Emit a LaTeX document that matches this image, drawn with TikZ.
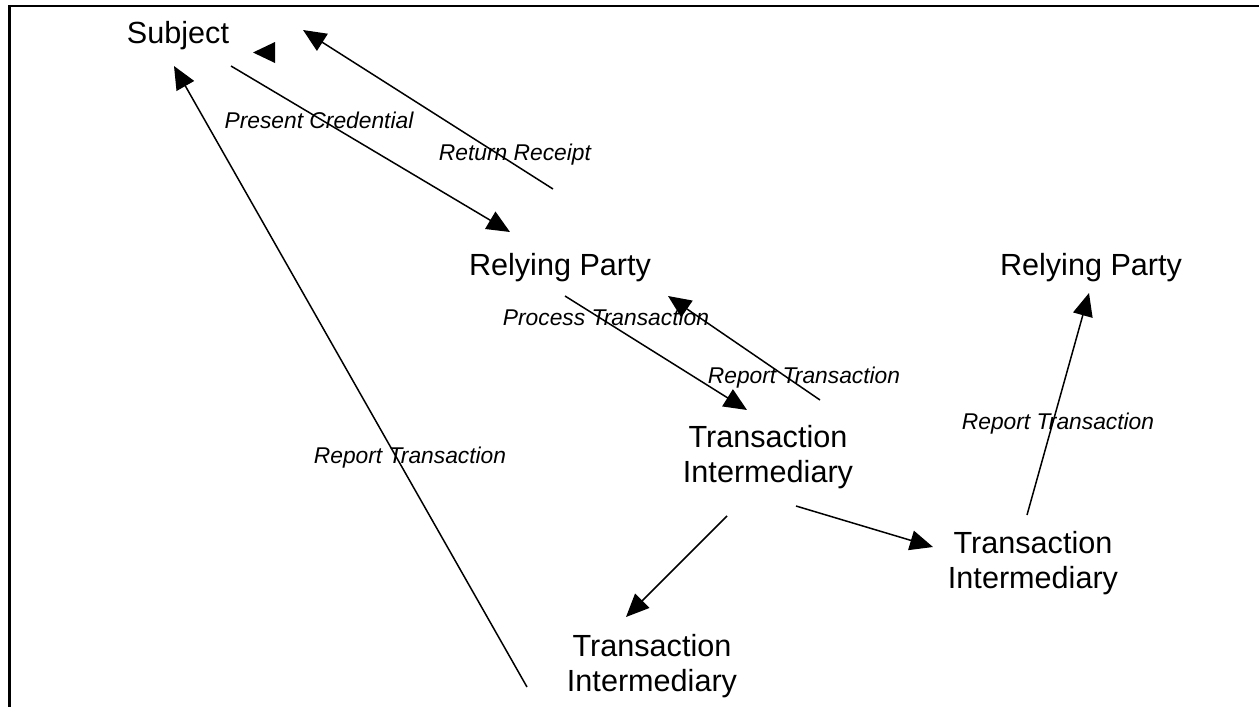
\documentclass[tikz,border=0pt]{standalone}
\usepackage{fontspec}
\setmainfont{Liberation Sans}
\usetikzlibrary{arrows.meta}
\tikzset{
  party/.style={inner sep=0pt, anchor=base, align=center, font=\fontsize{30.6}{35}\selectfont},
  flowlabel/.style={inner sep=0pt, anchor=base, font=\fontsize{22.8}{27}\selectfont\itshape},
  flow/.style={line width=1.5pt, -{Triangle[length=23pt,width=20pt]}},
  frameline/.style={line width=2.5pt}
}
\begin{document}
\begin{tikzpicture}[x=1pt,y=-1pt]
\useasboundingbox (0,0) rectangle (1259,707);
% frame
\coordinate (fr1) at (9.5,707);
\coordinate (fr2) at (9.5,6);
\coordinate (fr3) at (1259,6);
\draw[frameline] (fr1) -- (fr2) -- (fr3);

% nodes (anchor = baseline of the last line)
\node[party] (subj) at (178,43.5) {Subject};
\node[party] (rp1) at (560,275) {Relying Party};
\node[party] (rp2) at (1091,275.5) {Relying Party};
\node[party] (tim) at (768,482) {Transaction\\Intermediary};
\node[party] (tir) at (1033,588) {Transaction\\Intermediary};
\node[party] (tib) at (652,691) {Transaction\\Intermediary};

% labels
\node[flowlabel] (lpc) at (319,128) {Present Credential};
\node[flowlabel] (lrr) at (515,160) {Return Receipt};
\node[flowlabel] (lpt) at (606,325) {Process Transaction};
\node[flowlabel] (lrtm) at (804,383) {Report Transaction};
\node[flowlabel] (lrtl) at (410,463) {Report Transaction};
\node[flowlabel] (lrtr) at (1058,429) {Report Transaction};

% connector end points
\coordinate (pcs) at (231,66);   \coordinate (pce) at (510,232);
\coordinate (rrs) at (553,189);  \coordinate (rre) at (303,30);
\coordinate (rls) at (527,687);  \coordinate (rle) at (174,66);
\coordinate (pts) at (565,296);  \coordinate (pte) at (747,410);
\coordinate (rms) at (820,400);  \coordinate (rme) at (668,296);
\coordinate (mbs) at (727,516);  \coordinate (mbe) at (626,617);
\coordinate (mrs) at (796,506);  \coordinate (mre) at (933,547);
\coordinate (rrs2) at (1027,515); \coordinate (rre2) at (1089,293);

\draw[flow] (pcs) -- (pce);
\draw[flow] (rrs) -- (rre);
\draw[flow] (rls) -- (rle);
\draw[flow] (pts) -- (pte);
\draw[flow] (rms) -- (rme);
\draw[flow] (mbs) -- (mbe);
\draw[flow] (mrs) -- (mre);
\draw[flow] (rrs2) -- (rre2);

% lone arrowhead
\coordinate (lt1) at (253,52.5);
\coordinate (lt2) at (275,42);
\coordinate (lt3) at (275,63);
\fill (lt1) -- (lt2) -- (lt3) -- cycle;
\end{tikzpicture}
\end{document}
